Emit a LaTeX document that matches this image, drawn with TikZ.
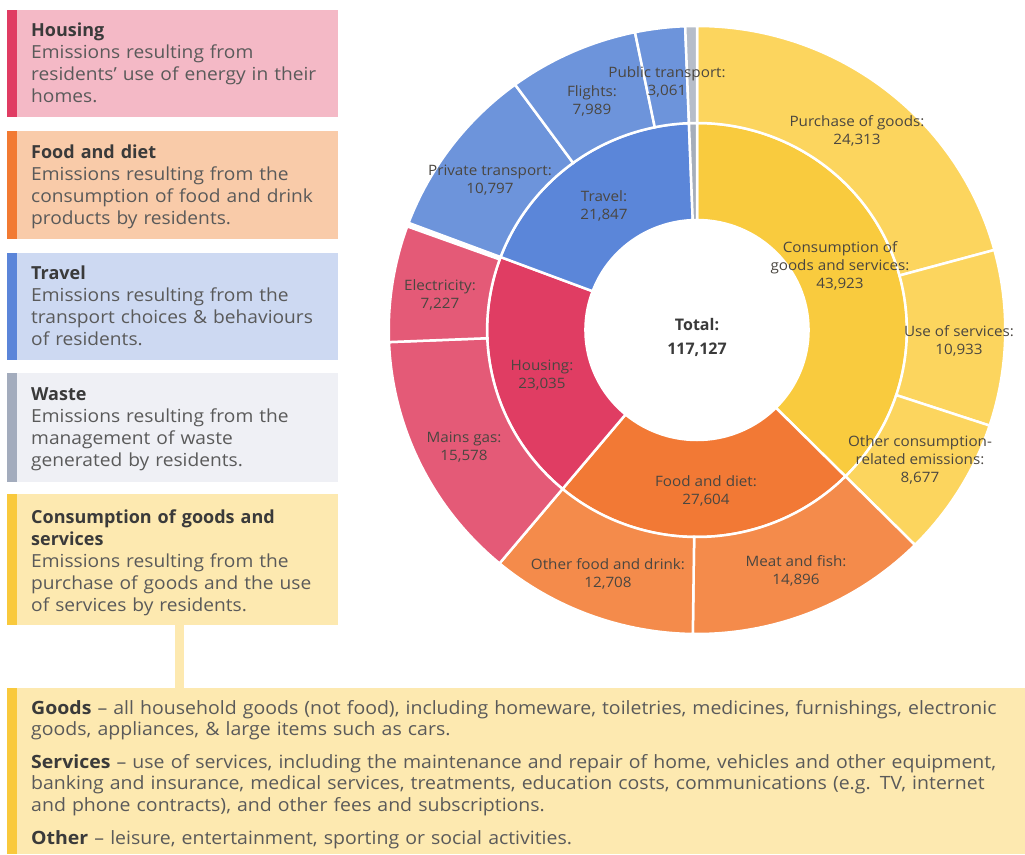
\documentclass[tikz,border=0pt]{standalone}
\usepackage{fontspec}
\setmainfont{Open Sans}
\newfontfamily\bodyfont[FakeStretch=1.065]{Open Sans}
\definecolor{hbg}{HTML}{F4B9C6}
\definecolor{hbar}{HTML}{E03C63}
\definecolor{fbg}{HTML}{F9CBA9}
\definecolor{fbar}{HTML}{F27A32}
\definecolor{tbg}{HTML}{CDD9F2}
\definecolor{tbar}{HTML}{5B85D9}
\definecolor{wbg}{HTML}{EFF0F5}
\definecolor{wbar}{HTML}{A3ACBD}
\definecolor{cbg}{HTML}{FDE9B0}
\definecolor{cbar}{HTML}{F9C93C}
\definecolor{cin}{HTML}{F9CB3E}
\definecolor{cout}{HTML}{FCD55E}
\definecolor{fin}{HTML}{F27935}
\definecolor{fout}{HTML}{F48B4B}
\definecolor{hin}{HTML}{E03D63}
\definecolor{hout}{HTML}{E45A77}
\definecolor{tin}{HTML}{5B86D9}
\definecolor{tout}{HTML}{6D94DB}
\definecolor{win}{HTML}{A6AEBB}
\definecolor{wout}{HTML}{B6BDC9}
\definecolor{titlecol}{HTML}{3A3A3A}
\definecolor{bodycol}{HTML}{5A5A5A}
\definecolor{labcol}{HTML}{4A4640}
\newcommand\donutsector[5]{%
  \fill[#5, draw=white, line width=2.5pt] ({#3-90}:#1) arc[start angle={#3-90}, end angle={#4-90}, radius=#1] -- ({#4-90}:#2) arc[start angle={#4-90}, end angle={#3-90}, radius=#2] -- cycle;}
\newcommand\legtitle[1]{{\normalfont\bfseries\color{titlecol}#1}}
\begin{document}
\begin{tikzpicture}[x=1pt,y=-1pt,
  legbox/.style={anchor=north west, minimum width=331pt, inner sep=0pt, outer sep=0pt},
  legtext/.style={anchor=base west, text width=310pt, align=left, inner sep=0pt, font=\bodyfont\fontsize{18}{22}\selectfont, text=bodycol},
  lab/.style={align=center, inner sep=0pt, font=\bodyfont\fontsize{14.3}{18}\selectfont, text=labcol},
  bottext/.style={anchor=base west, text width=990pt, align=left, inner sep=0pt, font=\bodyfont\fontsize{18.3}{21.7}\selectfont, text=bodycol}]
\useasboundingbox (0,0) rectangle (1025,854);
% legend boxes
\node[legbox, fill=hbg, minimum height=107pt] (hbox) at (7,10) {};
\fill[hbar] (hbox.north west) rectangle ++(10,107);
\node[legtext] (htext) at (31,36) {\legtitle{Housing}\\Emissions resulting from\\residents’ use of energy in their\\homes.};
\node[legbox, fill=fbg, minimum height=108pt] (fbox) at (7,131) {};
\fill[fbar] (fbox.north west) rectangle ++(10,108);
\node[legtext] (ftext) at (31,158) {\legtitle{Food and diet}\\Emissions resulting from the\\consumption of food and drink\\products by residents.};
\node[legbox, fill=tbg, minimum height=107pt] (tbox) at (7,253) {};
\fill[tbar] (tbox.north west) rectangle ++(10,107);
\node[legtext] (ttext) at (31,279) {\legtitle{Travel}\\Emissions resulting from the\\transport choices \& behaviours\\of residents.};
\node[legbox, fill=wbg, minimum height=109pt] (wbox) at (7,373) {};
\fill[wbar] (wbox.north west) rectangle ++(10,109);
\node[legtext] (wtext) at (31,400) {\legtitle{Waste}\\Emissions resulting from the\\management of waste\\generated by residents.};
\node[legbox, fill=cbg, minimum height=131pt] (cbox) at (7,494) {};
\fill[cbar] (cbox.north west) rectangle ++(10,131);
\node[legtext] (ctext) at (31,523) {\legtitle{Consumption of goods and}\\\legtitle{services}\\Emissions resulting from the\\purchase of goods and the use\\of services by residents.};
% bottom box
\node[anchor=north west, minimum width=1018pt, minimum height=166pt, inner sep=0pt, outer sep=0pt, fill=cbg] (gbox) at (7,688) {};
\fill[cbar] (gbox.north west) rectangle ++(10,166);
\draw[cbg, line width=9pt] (cbox.south) ++(6.5,0) coordinate (cs) -- (cs |- gbox.north);
\node[bottext] (goods) at (31,714) {\textbf{\color{titlecol}Goods} – all household goods (not food), including homeware, toiletries, medicines, furnishings, electronic\\goods, appliances, \& large items such as cars.};
\node[bottext] (serv) at (31,768) {\textbf{\color{titlecol}Services} – use of services, including the maintenance and repair of home, vehicles and other equipment,\\banking and insurance, medical services, treatments, education costs, communications (e.g. TV, internet\\and phone contracts), and other fees and subscriptions.};
\node[bottext] (oth) at (31,844) {\textbf{\color{titlecol}Other} – leisure, entertainment, sporting or social activities.};
% donut
\begin{scope}[shift={(697,330)}, xscale=1.014]
\donutsector{110}{207}{0}{135.00}{cin}
\donutsector{110}{207}{135.00}{219.84}{fin}
\donutsector{110}{207}{219.84}{290.64}{hin}
\donutsector{110}{207}{290.64}{357.79}{tin}
\donutsector{110}{207}{357.79}{360}{win}
\donutsector{207}{304}{0}{74.73}{cout}
\donutsector{207}{304}{74.73}{108.33}{cout}
\donutsector{207}{304}{108.33}{135.00}{cout}
\donutsector{207}{304}{135.00}{180.78}{fout}
\donutsector{207}{304}{180.78}{219.84}{fout}
\donutsector{207}{304}{219.84}{267.72}{hout}
\donutsector{207}{304}{267.72}{289.93}{hout}
\donutsector{207}{304}{290.64}{323.83}{tout}
\donutsector{207}{304}{323.83}{348.39}{tout}
\donutsector{207}{304}{348.39}{357.80}{tout}
\donutsector{207}{304}{357.80}{360}{wout}
\end{scope}
% labels
\node[lab] (pt) at (667,82) {Public transport:\\3,061};
\node[lab] (fl) at (592,101) {Flights:\\7,989};
\node[lab] (pr) at (490,180) {Private transport:\\10,797};
\node[lab] (tr) at (604,206) {Travel:\\21,847};
\node[lab] (el) at (440,295) {Electricity:\\7,227};
\node[lab] (ho) at (542,375) {Housing:\\23,035};
\node[lab] (mg) at (464,447) {Mains gas:\\15,578};
\node[lab] (of) at (608,574) {Other food and drink:\\12,708};
\node[lab] (fd) at (706,491) {Food and diet:\\27,604};
\node[lab] (mf) at (796,571) {Meat and fish:\\14,896};
\node[lab] (oc) at (920,460) {Other consumption-\\related emissions:\\8,677};
\node[lab] (us) at (959,341) {Use of services:\\10,933};
\node[lab] (pg) at (857,131) {Purchase of goods:\\24,313};
\node[lab] (cg) at (840,266) {Consumption of\\goods and services:\\43,923};
\node[align=center, inner sep=0pt, font=\bfseries\fontsize{16}{24}\selectfont, text=titlecol] (tot) at (697,337) {Total:\\117,127};
\end{tikzpicture}
\end{document}
